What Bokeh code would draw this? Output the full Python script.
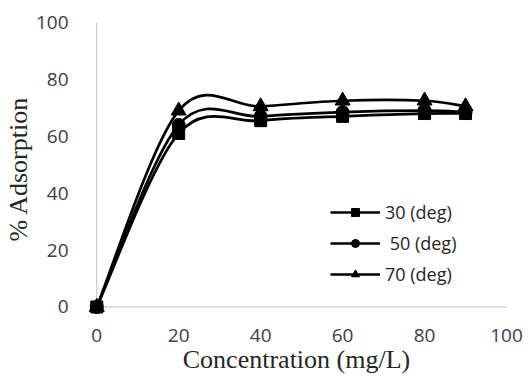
import numpy as np
from bokeh.plotting import figure
from bokeh.models import Range1d, FixedTicker, Legend, LegendItem, ColumnDataSource
from bokeh.embed import file_html
from bokeh.resources import INLINE

# ---- data ----
conc = [0, 20, 40, 60, 80, 90]
ads_30 = [0, 61, 65.5, 67, 68, 68]
ads_50 = [0, 64, 67, 68.5, 69, 68.5]
ads_70 = [0, 69, 70.5, 72.5, 72.5, 70.5]
labels = ["30 (deg)", " 50 (deg)", "70 (deg)"]
x_ticks = [0, 20, 40, 60, 80, 100]
y_ticks = [0, 20, 40, 60, 80, 100]

TICK_FONT = "Open Sans"
TITLE_FONT = "Liberation Serif"


def smooth_source(xs, ys, k=1.0 / 6.0):
    """Catmull-Rom style bezier control points (like a spreadsheet's smoothed line)."""
    xs = np.asarray(xs, float)
    ys = np.asarray(ys, float)
    n = len(xs)
    d = dict(x0=[], y0=[], x1=[], y1=[], cx0=[], cy0=[], cx1=[], cy1=[])
    for i in range(n - 1):
        im = max(i - 1, 0)
        ip = min(i + 2, n - 1)
        d["x0"].append(xs[i]); d["y0"].append(ys[i])
        d["x1"].append(xs[i + 1]); d["y1"].append(ys[i + 1])
        d["cx0"].append(xs[i] + (xs[i + 1] - xs[im]) * k)
        d["cy0"].append(ys[i] + (ys[i + 1] - ys[im]) * k)
        d["cx1"].append(xs[i + 1] - (xs[ip] - xs[i]) * k)
        d["cy1"].append(ys[i + 1] - (ys[ip] - ys[i]) * k)
    return ColumnDataSource(d)


p = figure(width=528, height=376, output_backend="svg", toolbar_location=None,
           x_range=Range1d(-2.5, 100), y_range=Range1d(-3, 100),
           min_border_left=86, min_border_right=22, min_border_top=22,
           min_border_bottom=61)
p.outline_line_color = None
p.xgrid.visible = False
p.ygrid.visible = False
p.background_fill_color = "white"
p.border_fill_color = "white"

# axis lines at zero
axis_gray = "#bfbfbf"
p.segment(x0=[x_ticks[0]], y0=[y_ticks[0]], x1=[x_ticks[-1]], y1=[y_ticks[0]],
          line_color=axis_gray, line_width=1)
p.segment(x0=[x_ticks[0]], y0=[y_ticks[0]], x1=[x_ticks[0]], y1=[y_ticks[-1]],
          line_color=axis_gray, line_width=1)

items = []
series = [(ads_30, "square", 12), (ads_50, "circle", 13), (ads_70, "triangle", 15)]
for (ys, marker, size), lab in zip(series, labels):
    src = smooth_source(conc, ys)
    b = p.bezier(x0="x0", y0="y0", x1="x1", y1="y1", cx0="cx0", cy0="cy0",
                 cx1="cx1", cy1="cy1", source=src, line_color="black", line_width=2.7)
    s = p.scatter(conc, ys, marker=marker, size=size, fill_color="black",
                  line_color="black")
    items.append(LegendItem(label=lab, renderers=[b, s]))

legend = Legend(items=items, location=(244, 29), orientation="vertical",
                glyph_width=50, glyph_height=20, label_height=20, spacing=7,
                label_standoff=5, padding=0, margin=0,
                border_line_color=None, background_fill_alpha=0,
                label_text_font=TICK_FONT, label_text_font_size="18px",
                label_text_color="#262626")
p.add_layout(legend, "center")

for ax in (p.xaxis[0], p.yaxis[0]):
    ax.axis_line_color = None
    ax.major_tick_line_color = None
    ax.minor_tick_line_color = None
    ax.major_label_text_font = TICK_FONT
    ax.major_label_text_font_size = "19px"
    ax.major_label_text_color = "#404040"
    ax.axis_label_text_font = TITLE_FONT
    ax.axis_label_text_font_size = "26px"
    ax.axis_label_text_font_style = "normal"
    ax.axis_label_text_color = "#262626"

p.xaxis.ticker = FixedTicker(ticks=x_ticks)
p.yaxis.ticker = FixedTicker(ticks=y_ticks)
p.xaxis.axis_label = "Concentration (mg/L)"
p.yaxis.axis_label = "% Adsorption"
p.xaxis.major_label_standoff = 7
p.yaxis.major_label_standoff = 12
p.xaxis.axis_label_standoff = 0
p.yaxis.axis_label_standoff = 0

open("out.html", "w").write(file_html(p, INLINE))
